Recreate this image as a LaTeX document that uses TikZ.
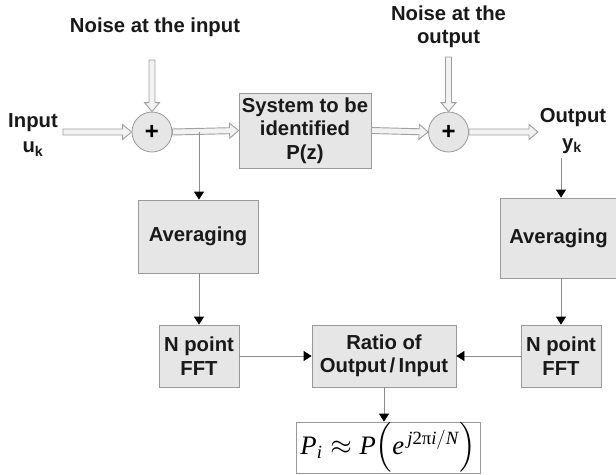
\documentclass[tikz,border=0pt]{standalone}
\usepackage{amsmath}
\usepackage[no-math]{fontspec}
\setmainfont{Liberation Sans}
\newfontfamily\tms{Liberation Serif}
\newcommand{\ti}[1]{\text{\tms\itshape #1}}
\newcommand{\tu}[1]{\text{\tms #1}}
\usetikzlibrary{arrows.meta,calc}
\definecolor{boxfill}{HTML}{E6E6E6}
\definecolor{boxline}{HTML}{9A9A9A}
\definecolor{holfill}{HTML}{F2F2F2}
\definecolor{holline}{HTML}{A0A0A0}
\definecolor{thinline}{HTML}{8C8C8C}
\begin{document}
\begin{tikzpicture}[x=0.75pt,y=-0.75pt,
  lbl/.style={font=\fontsize{15.2}{17.5}\selectfont\bfseries, align=center, text=black!90, inner sep=0pt},
  blk/.style={draw=boxline, fill=boxfill, line width=0.6pt, inner sep=0pt, font=\fontsize{15.2}{17.5}\selectfont\bfseries, align=center, text=black!90},
  sumnode/.style={circle, draw=boxline, fill=boxfill, line width=0.6pt, minimum size=30pt, inner sep=0pt, font=\fontsize{18}{18}\selectfont\bfseries},
  conn/.style={draw=thinline, line width=0.6pt, -{Triangle[length=6pt,width=7.5pt,color=black]}},
  hollow/.style={draw=holline, fill=holfill, line width=0.7pt, line join=miter,
    to path={
      ($(\tikztostart)!2.25pt!90:(\tikztotarget)$) --
      ($(\tikztotarget)!6.75pt!(\tikztostart)!2.25pt!-90:(\tikztostart)$) --
      ($(\tikztotarget)!6.75pt!(\tikztostart)!5.6pt!-90:(\tikztostart)$) --
      (\tikztotarget) --
      ($(\tikztotarget)!6.75pt!(\tikztostart)!5.6pt!90:(\tikztostart)$) --
      ($(\tikztotarget)!6.75pt!(\tikztostart)!2.25pt!90:(\tikztostart)$) --
      ($(\tikztostart)!2.25pt!-90:(\tikztotarget)$) -- cycle}}
]
\useasboundingbox (0,0) rectangle (616,474);

% labels
\node[lbl] (nin) at (155,27) {Noise at the input};
\node[lbl] (nout) at (448.5,27) {Noise at the\\output};
\node[lbl] (inlbl) at (33,123) {Input};
\node[lbl] (uk) at (33,149) {u\textsubscript{k}};
\node[lbl] (outlbl) at (573,118) {Output};
\node[lbl] (yk) at (572,146) {y\textsubscript{k}};

% summing junctions
\node[sumnode] (s1) at (152,132) {+};
\node[sumnode] (s2) at (448.5,132) {+};

% blocks
\node[blk, minimum width=99pt, minimum height=56.25pt] (sys) at (305,130.5) {System to be\\identified\\P(z)};
\node[blk, minimum width=90pt, minimum height=54.75pt] (avg1) at (198,236.5) {Averaging};
\node[blk, minimum width=87.75pt, minimum height=60pt] (avg2) at (558.5,238) {Averaging};
\node[blk, minimum width=60pt, minimum height=46.5pt] (fft1) at (199,356) {N point\\FFT};
\node[blk, minimum width=108pt, minimum height=46.5pt] (ratio) at (384,356) {Ratio of\\Output\,/\,Input};
\node[blk, minimum width=60pt, minimum height=46.5pt] (fft2) at (561,356) {N point\\FFT};
\node[draw=boxline, fill=white, line width=0.6pt, minimum width=138pt, minimum height=38.25pt, inner sep=0pt]
  (formula) at (388,447.5) {\fontsize{20}{24}\selectfont$\ti{P}_{\ti{i}} \approx \ti{P}\Big(\ti{e}^{\,\ti{j}\tu{2π}\ti{i}/\ti{N}}\Big)$};

% coordinates
\coordinate (inS) at (63,132);
\coordinate (ninS) at (152,60);
\coordinate (noutS) at (448.5,57);
\coordinate (outE) at (538,132);
\coordinate (br) at (199,132);
\coordinate (ytap) at (561,158);

% hollow signal arrows
\draw[hollow] (inS) to (s1.west);
\draw[hollow] (ninS) to (s1.north);
\draw[hollow] (s1.east) to (sys.west);
\draw[hollow] (sys.east) to (s2.west);
\draw[hollow] (noutS) to (s2.north);
\draw[hollow] (s2.east) to (outE);

% thin connectors
\draw[conn] (br) -- (br |- avg1.north);
\draw[conn] (br |- avg1.south) -- (fft1.north);
\draw[conn] (ytap) -- (ytap |- avg2.north);
\draw[conn] (fft2.north |- avg2.south) -- (fft2.north);
\draw[conn] (fft1.east) -- (ratio.west);
\draw[conn] (fft2.west) -- (ratio.east);
\draw[conn] (ratio.south) -- (ratio.south |- formula.north);
\end{tikzpicture}
\end{document}
